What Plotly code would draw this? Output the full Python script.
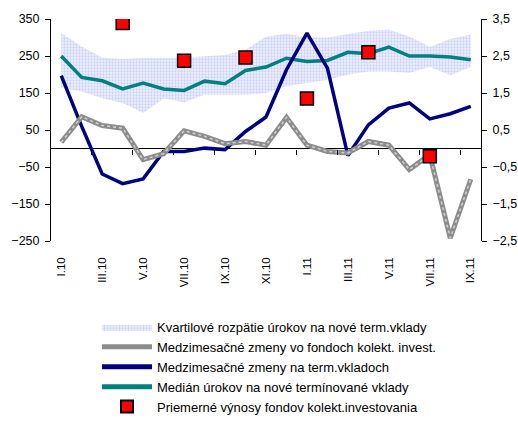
import plotly.graph_objects as go

# ---------------- data ----------------
categories = ["I.10", "II.10", "III.10", "IV.10", "V.10", "VI.10", "VII.10", "VIII.10",
              "IX.10", "X.10", "XI.10", "XII.10", "I.11", "II.11", "III.11", "IV.11",
              "V.11", "VI.11", "VII.11", "VIII.11", "IX.11"]

# quartile range of rates on new term deposits (%), right axis
band_upper = [3.12, 2.76, 2.45, 2.42, 2.45, 2.45, 2.45, 2.49, 2.53, 2.67, 3.03,
              3.10, 3.00, 3.00, 3.10, 3.18, 3.21, 3.03, 2.75, 2.96, 3.08]
band_lower = [1.64, 1.54, 1.36, 1.23, 0.96, 1.35, 1.25, 1.45, 1.45, 1.45, 1.50,
              1.68, 1.77, 1.86, 1.99, 2.08, 2.08, 2.04, 2.20, 1.98, 2.20]

# median rate on new term deposits (%), right axis
median_rate = [2.50, 1.92, 1.83, 1.61, 1.77, 1.61, 1.57, 1.82, 1.75, 2.11, 2.20,
               2.44, 2.35, 2.38, 2.60, 2.56, 2.74, 2.50, 2.50, 2.47, 2.40]

# month-on-month changes in collective investment funds, left axis
fund_changes = [17, 86, 62, 55, -30, -14, 48, 33, 13, 19, 9,
                84, 9, -8, -12, 19, 9, -57, -17, -242, -83]

# month-on-month changes in term deposits, left axis
deposit_changes = [197, 60, -69, -95, -82, -8, -8, 1, -3, 46, 85,
                   213, 312, 217, -19, 64, 109, 123, 80, 94, 114]

# average returns of collective investment funds (%), right axis
yield_months = ["IV.10", "VII.10", "X.10", "I.11", "IV.11", "VII.11"]
fund_yields = [3.39, 2.37, 2.46, 1.35, 2.60, -0.21]

left_ticks = [-250, -150, -50, 50, 150, 250, 350]
right_ticks = [-2.5, -1.5, -0.5, 0.5, 1.5, 2.5, 3.5]
label_months = categories[::2]
boundary_months = categories[2::2]

names = [
    "Kvartilové rozpätie úrokov na nové term.vklady",
    "Medzimesačné zmeny vo fondoch kolekt. invest.",
    "Medzimesačné zmeny na term.vkladoch",
    "Medián úrokov na nové termínované vklady",
    "Priemerné výnosy fondov kolekt.investovania",
]

# right-axis series drawn on the left axis (identical scale: 1 % = 100)
scale = 100

fig = go.Figure()

fig.add_trace(go.Scatter(
    x=categories, y=[v * scale for v in band_lower], mode="lines",
    line=dict(width=0, color="rgba(0,0,0,0)"), showlegend=False, hoverinfo="skip"))
fig.add_trace(go.Scatter(
    x=categories, y=[v * scale for v in band_upper], mode="lines", fill="tonexty",
    line=dict(width=0, color="rgba(0,0,0,0)"),
    fillcolor="#e6e8fc",
    fillpattern=dict(shape=".", fgcolor="#aeb4f4", bgcolor="#eef0fe", size=3, solidity=0.45),
    name=names[0], legendrank=1))

fig.add_trace(go.Scatter(
    x=categories, y=[v * scale for v in median_rate], mode="lines",
    line=dict(color="#008080", width=3.5), name=names[3], legendrank=4))

fig.add_trace(go.Scatter(
    x=categories, y=deposit_changes, mode="lines",
    line=dict(color="#000080", width=3.5), name=names[2], legendrank=3))

fig.add_trace(go.Scatter(
    x=categories, y=fund_changes, mode="lines",
    line=dict(color="#8c8c8c", width=5), name=names[1], legendrank=2))
fig.add_trace(go.Scatter(
    x=categories, y=fund_changes, mode="lines",
    line=dict(color="#d0d0d0", width=1.5, dash="dot"), showlegend=False, hoverinfo="skip"))

# dummy trace carrying the tick marks on the zero line
fig.add_trace(go.Scatter(
    x=categories, y=[None] * len(categories), xaxis="x2", yaxis="y",
    mode="lines", showlegend=False, hoverinfo="skip"))

fig.add_trace(go.Scatter(
    x=yield_months, y=fund_yields, yaxis="y2", mode="markers",
    marker=dict(symbol="square", size=13, color="#ff0000", line=dict(color="black", width=1.5)),
    name=names[4], legendrank=5))

font = "Liberation Sans, Arial, sans-serif"

fig.update_layout(
    width=518, height=423,
    margin=dict(l=51, r=37, t=19, b=182, autoexpand=False),
    paper_bgcolor="white", plot_bgcolor="white",
    separators=", ",
    font=dict(family=font, size=12, color="black"),
    xaxis=dict(
        type="category", categoryorder="array", categoryarray=categories,
        range=[-0.5, len(categories) - 0.5],
        tickmode="array", tickvals=label_months, ticktext=label_months,
        tickangle=-90, ticks="", showline=False, showgrid=False, zeroline=False,
        tickfont=dict(size=11.5), ticklabelstandoff=13),
    xaxis2=dict(
        type="category", categoryorder="array", categoryarray=categories,
        range=[-0.5, len(categories) - 0.5], overlaying="x", anchor="free",
        position=250 / 600, side="bottom",
        tickmode="array", tickvals=boundary_months, tickson="boundaries",
        ticks="outside", ticklen=5, tickcolor="black", tickwidth=1,
        showticklabels=False, showline=False, showgrid=False, zeroline=False),
    yaxis=dict(
        range=[-250, 350], tickmode="array", tickvals=left_ticks,
        ticks="outside", ticklen=5, tickcolor="black",
        showline=True, linecolor="black", linewidth=1, showgrid=False,
        zeroline=True, zerolinecolor="black", zerolinewidth=1,
        tickfont=dict(size=12.5), ticklabelstandoff=3),
    yaxis2=dict(
        range=[-2.5, 3.5], overlaying="y", side="right", tickmode="array",
        tickvals=right_ticks, tickformat=".1f",
        ticks="outside", ticklen=5, tickcolor="black",
        showline=True, linecolor="black", linewidth=1, showgrid=False, zeroline=False,
        tickfont=dict(size=12.5), ticklabelstandoff=3),
    legend=dict(
        xref="container", yref="container",
        x=97 / 518, y=1 - 312 / 423, xanchor="left", yanchor="top",
        orientation="v", traceorder="normal", bgcolor="rgba(0,0,0,0)", font=dict(size=13),
        itemwidth=50, itemsizing="constant", tracegroupgap=0),
    showlegend=True,
)

fig.write_html("out.html", config={"displayModeBar": False},
               post_script="document.body.style.margin='0';")
